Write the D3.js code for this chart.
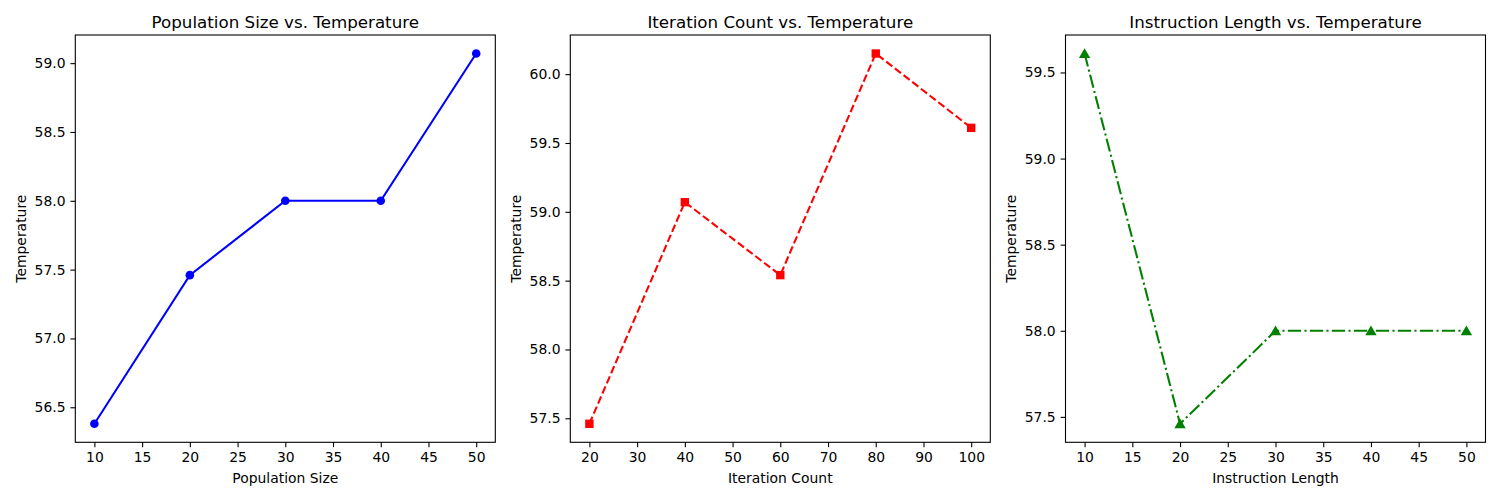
<!DOCTYPE html>
<html>
<head>
<meta charset="utf-8">
<script src="https://cdn.jsdelivr.net/npm/d3@7"></script>
<style>
  body { margin: 0; background: #fff; }
  svg { display: block; }
  text { font-family: "DejaVu Sans", sans-serif; fill: #000; }
  .tick line, .domain { stroke: #000; }
</style>
</head>
<body>
<svg id="chart" width="1500" height="500"></svg>
<script>
// data
var populationSize = [10, 20, 30, 40, 50];
var populationTemp = [56.38, 57.46, 58.0, 58.0, 59.07];

var iterationCount = [20, 40, 60, 80, 100];
var iterationTemp = [57.46, 59.07, 58.54, 60.15, 59.61];

var instructionLength = [10, 20, 30, 40, 50];
var instructionTemp = [59.61, 57.46, 58.0, 58.0, 58.0];

var xTicks1 = [10, 15, 20, 25, 30, 35, 40, 45, 50];
var xTicks2 = [20, 30, 40, 50, 60, 70, 80, 90, 100];
var xTicks3 = [10, 15, 20, 25, 30, 35, 40, 45, 50];

var yTicks1 = [56.5, 57.0, 57.5, 58.0, 58.5, 59.0];
var yTicks2 = [57.5, 58.0, 58.5, 59.0, 59.5, 60.0];
var yTicks3 = [57.5, 58.0, 58.5, 59.0, 59.5];

var svg = d3.select('#chart');

// (window.top is taken, so plotTop)
var plotTop = 35, plotBottom = 442.3, plotW = 420;

var panels = [
	{ left: 75.3, x: populationSize, y: populationTemp, xTicks: xTicks1, yTicks: yTicks1,
	  title: 'Population Size vs. Temperature', xLabel: 'Population Size',
	  color: 'blue', dash: null, marker: 'circle' },
	{ left: 570.3, x: iterationCount, y: iterationTemp, xTicks: xTicks2, yTicks: yTicks2,
	  title: 'Iteration Count vs. Temperature', xLabel: 'Iteration Count',
	  color: 'red', dash: '7.7,3.3', marker: 'square' },
	{ left: 1065.5, x: instructionLength, y: instructionTemp, xTicks: xTicks3, yTicks: yTicks3,
	  title: 'Instruction Length vs. Temperature', xLabel: 'Instruction Length',
	  color: 'green', dash: '13.3,3.3,2.1,3.3', marker: 'triangle' }
];

// matplotlib style 5% margins
function padded(values) {
	var ext = d3.extent(values);
	var m = (ext[1] - ext[0]) * 0.05;
	return [ext[0] - m, ext[1] + m];
}

panels.forEach(function(p) {
	var g = svg.append('g');

	var x = d3.scaleLinear().domain(padded(p.x)).range([p.left, p.left + plotW]);
	var y = d3.scaleLinear().domain(padded(p.y)).range([plotBottom, plotTop]);

	var fmt = d3.format('.1f');

	g.append('g')
	  .attr('transform', 'translate(0,' + plotBottom + ')')
	  .call(d3.axisBottom(x).tickValues(p.xTicks).tickSize(4.9).tickPadding(4.9).tickFormat(d3.format('d')))
	  .call(function(a) { a.select('.domain').remove(); })
	  .selectAll('text').style('font-size', '13.9px').style('font-family', '"DejaVu Sans", sans-serif');

	g.append('g')
	  .attr('transform', 'translate(' + p.left + ',0)')
	  .call(d3.axisLeft(y).tickValues(p.yTicks).tickSize(4.9).tickPadding(4.9).tickFormat(fmt))
	  .call(function(a) { a.select('.domain').remove(); })
	  .selectAll('text').style('font-size', '13.9px').style('font-family', '"DejaVu Sans", sans-serif');

	g.selectAll('.tick line').attr('stroke-width', 1.1);

	// frame
	g.append('rect')
	  .attr('x', p.left)
	  .attr('y', plotTop)
	  .attr('width', plotW)
	  .attr('height', plotBottom - plotTop)
	  .attr('fill', 'none')
	  .attr('stroke', '#000')
	  .attr('stroke-width', 1.1);

	var pts = p.x.map(function(d, i) { return [d, p.y[i]]; });

	var line = d3.line()
	  .x(function(d) { return x(d[0]); })
	  .y(function(d) { return y(d[1]); });

	var path = g.append('path')
	  .datum(pts)
	  .attr('d', line)
	  .attr('fill', 'none')
	  .attr('stroke', p.color)
	  .attr('stroke-width', 2.08);
	if (p.dash) path.attr('stroke-dasharray', p.dash);

	var sym = p.marker == 'circle' ? d3.symbolCircle : (p.marker == 'square' ? d3.symbolSquare : d3.symbolTriangle);
	var size = p.marker == 'circle' ? Math.PI * 4.3 * 4.3 : (p.marker == 'square' ? 8.4 * 8.4 : 56);

	g.selectAll('.mark')
	  .data(pts)
	  .enter()
	  .append('path')
	  .attr('transform', function(d) {
		  var dy = p.marker == 'triangle' ? 1.2 : 0;
		  return 'translate(' + x(d[0]) + ',' + (y(d[1]) + dy) + ')';
	  })
	  .attr('d', d3.symbol().type(sym).size(size))
	  .attr('fill', p.color);

	g.append('text')
	  .attr('x', p.left + plotW / 2)
	  .attr('y', 27.5)
	  .attr('text-anchor', 'middle')
	  .style('font-size', '16.7px')
	  .text(p.title);

	g.append('text')
	  .attr('x', p.left + plotW / 2)
	  .attr('y', 482.5)
	  .attr('text-anchor', 'middle')
	  .style('font-size', '13.9px')
	  .text(p.xLabel);

	g.append('text')
	  .attr('transform', 'translate(' + (p.left - 49.5) + ',' + ((plotTop + plotBottom) / 2) + ') rotate(-90)')
	  .attr('text-anchor', 'middle')
	  .style('font-size', '13.9px')
	  .text('Temperature');
});
</script>
</body>
</html>
